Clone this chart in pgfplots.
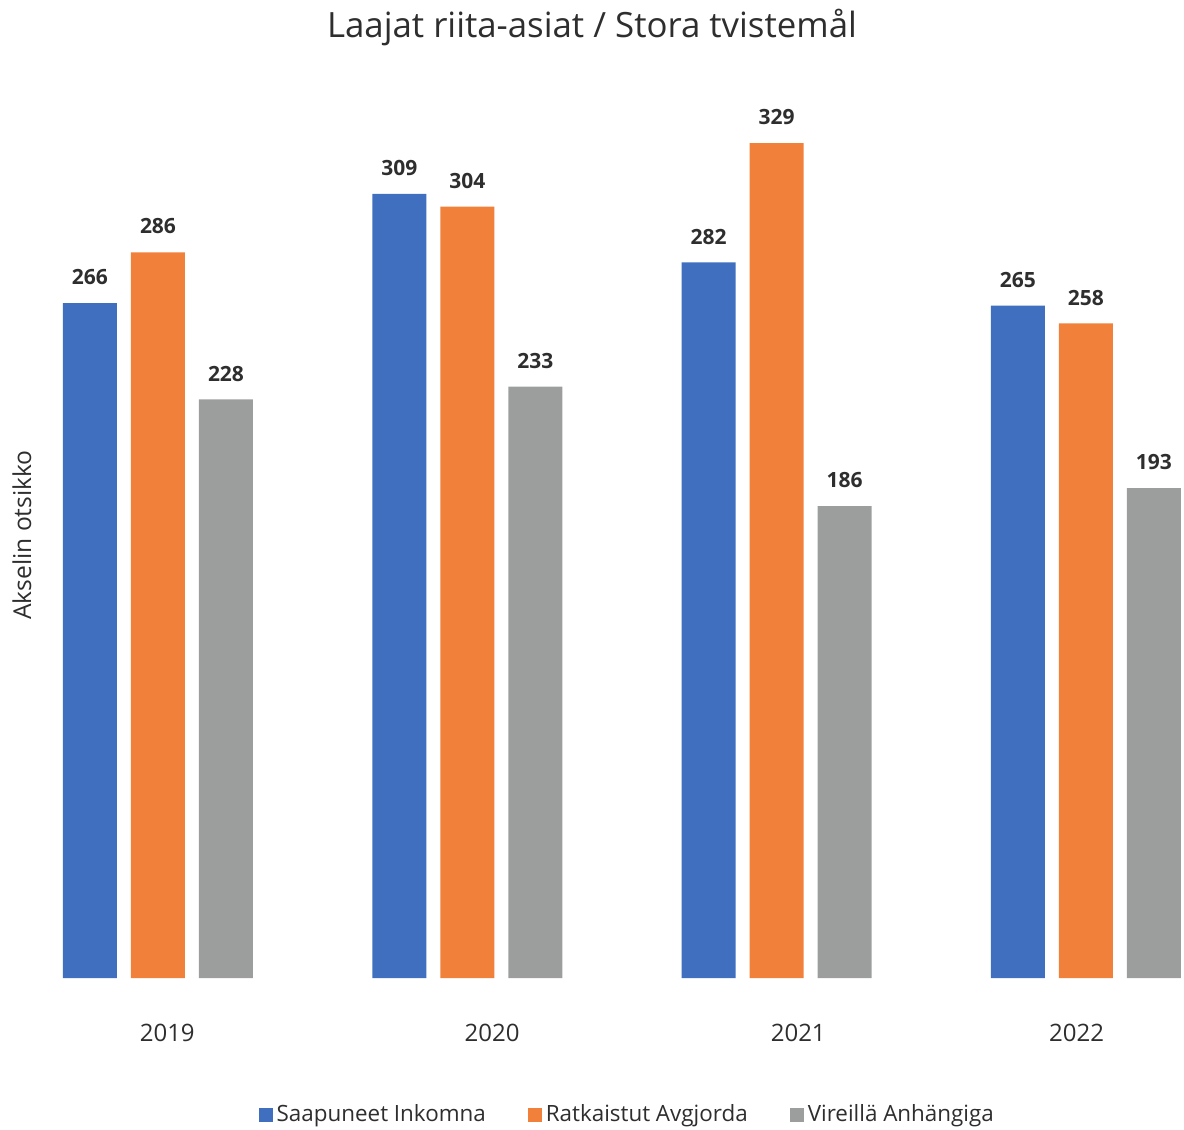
\documentclass[border=0pt]{standalone}
\usepackage{pgfplots}
\pgfplotsset{compat=1.18}
\usepackage{fontspec}
\setmainfont{Open Sans}
\definecolor{cblue}{HTML}{3F6FBE}
\definecolor{corange}{HTML}{F0803A}
\definecolor{cgray}{HTML}{9C9E9E}
\definecolor{ctext}{HTML}{2E2E2E}
\begin{document}
\begin{tikzpicture}
\begin{axis}[
  at={(0,0)}, anchor=south west,
  scale only axis, width=561.4pt, height=439pt,
  ybar=7pt, bar width=27pt,
  xmin=-0.32, xmax=3.31, ymin=0, ymax=346,
  axis line style={draw=none},
  ytick=\empty, xtick={0.03,1.08,2.07,2.97},
  xticklabels={2019,2020,2021,2022},
  major tick length=0pt,
  xticklabel style={font=\fontsize{12}{14}\selectfont, text=ctext, yshift=-19.5pt},
  /pgf/number format/assume math mode=true,
  nodes near coords,
  every node near coord/.append style={font=\fontsize{10.5}{12}\selectfont\bfseries, text=ctext, yshift=5.5pt},
  legend style={at={(0.507,-0.156)}, anchor=center, draw=none, legend columns=3,
    font=\fontsize{11.2}{13}\selectfont, text=ctext,
    /tikz/every even column/.append style={column sep=19pt}},
  legend image code/.code={\fill[#1,draw=none] (0pt,-3.5pt) rectangle (7pt,3.5pt);},
  clip=false,
]
\addplot[fill=cblue, draw=none] coordinates {(0,266) (1,309) (2,282) (3,265)};
\addplot[fill=corange, draw=none] coordinates {(0,286) (1,304) (2,329) (3,258)};
\addplot[fill=cgray, draw=none] coordinates {(0,228) (1,233) (2,186) (3,193)};
\legend{Saapuneet Inkomna, Ratkaistut Avgjorda, Vireillä Anhängiga}
\end{axis}
\node[font=\fontsize{17.4}{20}\selectfont, text=ctext] at (266.5pt,475pt) {Laajat riita-asiat / Stora tvistemål};
\node[font=\fontsize{12.3}{14}\selectfont, text=ctext, rotate=90] at (-18.5pt,221.5pt) {Akselin otsikko};
\pgfresetboundingbox
\path[use as bounding box] (-29.5pt,-76pt) rectangle (562.5pt,489pt);
\end{tikzpicture}
\end{document}
